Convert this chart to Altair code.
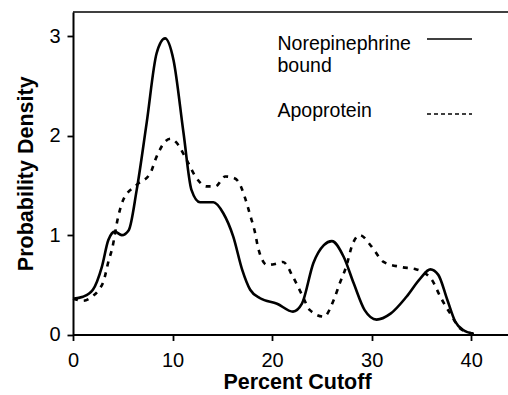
import altair as alt
import pandas as pd

# Norepinephrine bound (solid)
solid_x = [0, 1.0, 2.0, 2.9, 3.55, 4.2, 4.9, 5.6, 6.4, 7.4, 8.4, 9.25, 10.1, 11.1, 11.9,
           12.76, 14.1, 15.1, 16.1, 17.0, 17.8, 18.8, 20.5, 22.1, 23.0, 24.15, 25.2, 26.0,
           27.2, 28.2, 29.3, 30.5, 31.9, 33.5, 34.9, 35.9, 36.7, 37.6, 38.4, 39.2, 40.2]
solid_y = [0.36, 0.38, 0.45, 0.68, 0.95, 1.035, 1.0, 1.05, 1.455, 2.13, 2.83, 2.98, 2.76, 2.03, 1.455,
           1.33, 1.33, 1.22, 0.985, 0.65, 0.45, 0.365, 0.31, 0.23, 0.31, 0.72, 0.90, 0.94,
           0.78, 0.515, 0.245, 0.15, 0.21, 0.38, 0.565, 0.655, 0.60, 0.35, 0.13, 0.045, 0.01]

# Apoprotein (dashed)
dash_x = [0, 1.0, 1.9, 2.6, 3.05, 3.6, 3.9, 4.55, 5.05, 6.4, 7.75, 8.4, 9.25, 9.8, 10.4, 11.4,
          12.3, 13.4, 14.3, 15.3, 16.0, 16.6, 17.3, 17.8, 18.3, 18.6, 19.5, 20.3, 21.1, 22.1,
          23.0, 23.8, 25.2, 26.2, 26.8, 27.5, 28.0, 28.8, 30.0, 31.2, 32.9, 34.5, 36.05, 36.9,
          37.9, 38.9, 39.9, 40.5]
dash_y = [0.36, 0.34, 0.38, 0.45, 0.53, 0.75, 0.85, 1.19, 1.355, 1.505, 1.62, 1.79, 1.94, 1.97, 1.93, 1.76,
          1.59, 1.49, 1.49, 1.59, 1.58, 1.54, 1.37, 1.2, 1.02, 0.87, 0.70, 0.71, 0.73, 0.58,
          0.40, 0.245, 0.18, 0.35, 0.515, 0.70, 0.885, 1.0, 0.885, 0.73, 0.68, 0.655, 0.55, 0.38,
          0.21, 0.06, 0.015, 0.0]

x_ticks = [0, 10, 20, 30, 40]
y_ticks = [0, 1, 2, 3]
legend_lines = ["Norepinephrine", "bound", "Apoprotein"]

F = "Liberation Sans"
W, H = 435, 322.5

xs = alt.Scale(domain=[0, 43.7], nice=False, zero=False)
ys = alt.Scale(domain=[0, 3.245], nice=False)

x_axis = alt.Axis(values=x_ticks, format="d", grid=False, domainColor="black", domainWidth=2,
                  tickColor="black", tickWidth=1.8, tickSize=6, labelFont=F, labelFontSize=20,
                  labelColor="black", labelPadding=10, labelFlush=False, labelOverlap=False,
                  title="Percent Cutoff", titleFont=F,
                  titleFontSize=21.5, titleFontWeight="bold", titleColor="black",
                  titleX=224, titleY=54, titleBaseline="alphabetic", titleAlign="center")
y_axis = alt.Axis(values=y_ticks, format="d", grid=False, domainColor="black", domainWidth=2,
                  tickColor="black", tickWidth=1.8, tickSize=6, labelFont=F, labelFontSize=20,
                  labelColor="black", labelPadding=7, labelFlush=False, labelOverlap=False,
                  title="Probability Density", titleFont=F,
                  titleFontSize=21.5, titleFontWeight="bold", titleColor="black",
                  titleX=-41, titleY=H / 2, titleAngle=270, titleBaseline="alphabetic",
                  titleAlign="center")

solid_df = pd.DataFrame({"x": solid_x, "y": solid_y})
dash_df = pd.DataFrame({"x": dash_x, "y": dash_y})

solid = alt.Chart(solid_df).mark_line(color="black", strokeWidth=2.6, interpolate="monotone").encode(
    x=alt.X("x:Q", scale=xs, axis=x_axis),
    y=alt.Y("y:Q", scale=ys, axis=y_axis),
)
dashed = alt.Chart(dash_df).mark_line(color="black", strokeWidth=2.6, strokeDash=[5, 6],
                                      interpolate="monotone").encode(
    x=alt.X("x:Q", scale=xs),
    y=alt.Y("y:Q", scale=ys),
)

one = pd.DataFrame({"k": [0]})
top_border = alt.Chart(one).mark_rule(color="black", strokeWidth=1.6).encode(
    x=alt.value(0), x2=alt.value(W), y=alt.value(0))

def txt(label, ypix):
    return alt.Chart(pd.DataFrame({"t": [label]})).mark_text(
        align="left", baseline="alphabetic", font=F, fontSize=19.5, color="black"
    ).encode(x=alt.value(204.5), y=alt.value(ypix), text="t:N")

t1 = txt(legend_lines[0], 50 - 12)
t2 = txt(legend_lines[1], 72 - 12)
t3 = txt(legend_lines[2], 117 - 12)

leg_solid = alt.Chart(one).mark_rule(color="black", strokeWidth=1.4).encode(
    x=alt.value(354), x2=alt.value(399), y=alt.value(39 - 12))
leg_dash = alt.Chart(one).mark_rule(color="black", strokeWidth=1.4, strokeDash=[4, 3]).encode(
    x=alt.value(354), x2=alt.value(399), y=alt.value(114 - 12))

chart = alt.layer(solid, dashed, top_border, t1, t2, t3, leg_solid, leg_dash).properties(
    width=W, height=H,
    autosize=alt.AutoSizeParams(type="none"),
    padding={"left": 73, "top": 12, "right": 0, "bottom": 60.5},
).configure_view(stroke=None)

chart.save("out.html", embed_options={"renderer": "svg", "actions": False})
